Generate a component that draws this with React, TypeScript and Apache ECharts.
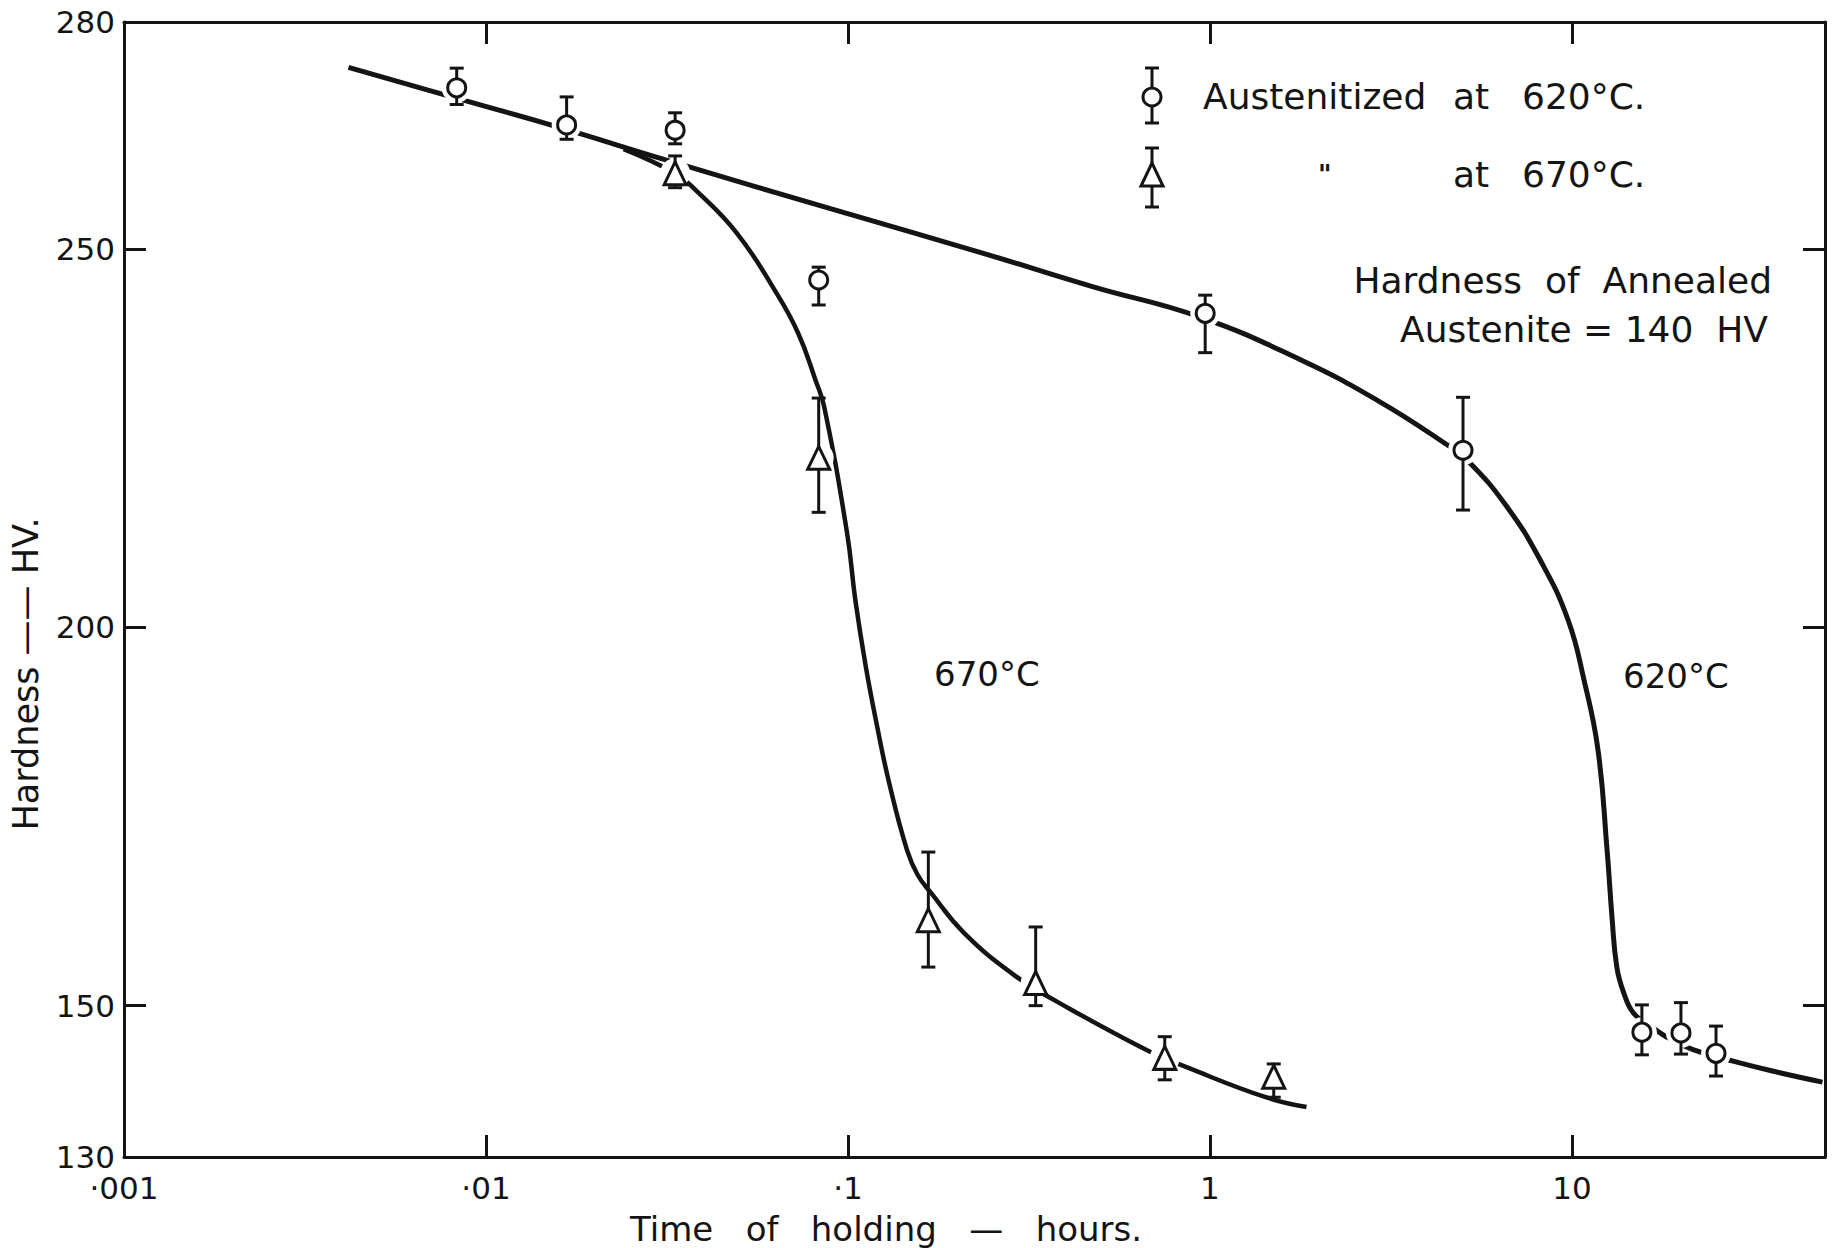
import React, { useEffect, useRef } from 'react';
import * as echarts from 'echarts';

// ---- axis ticks ----
const xTickValues = [0.001, 0.01, 0.1, 1, 10];
const xTickLabels = ['·001', '·01', '·1', '1', '10'];
const yTickLabels = [130, 150, 200, 250, 280];
const yTickMarks = [150, 200, 250];

// ---- Austenitized at 620 °C (circles) ----
const circ620T = [0.0083, 0.0167, 0.0333, 0.083, 0.97, 5, 15.6, 20, 25];
const circ620V = [271.3, 266.4, 265.7, 245.9, 241.5, 223.4, 146.5, 146.4, 143.7];
const circ620Lo = [269.1, 264.5, 263.9, 242.6, 236.3, 215.5, 143.5, 143.6, 140.7];
const circ620Hi = [273.9, 270.1, 268.0, 247.6, 243.9, 230.4, 150.1, 150.4, 147.3];

// ---- Austenitized at 670 °C (triangles) ----
const tri670T = [0.0333, 0.083, 0.1667, 0.33, 0.75, 1.5];
const tri670V = [260.0, 222.4, 161.3, 153.0, 143.1, 140.6];
const tri670Lo = [258.1, 215.2, 155.1, 150.0, 140.2, 137.9];
const tri670Hi = [262.3, 230.3, 170.3, 160.4, 145.9, 142.3];

// ---- fitted curves ----
const curve620T = [0.00417, 0.00833, 0.0161, 0.0312, 0.0976, 0.234, 0.476, 0.939, 1.79, 2.9, 4.43, 5.21, 6.62, 8.17, 9.75, 10.8, 11.8, 12.5, 12.9, 13.3, 13.9, 14.8, 16.6, 18.2, 21.6, 28.2, 37.0, 49.2];
const curve620V = [274.0, 269.9, 266.0, 261.8, 254.8, 249.5, 245.0, 241.0, 235.3, 230.0, 224.4, 221.8, 215.9, 208.9, 201.0, 193.0, 183.8, 170.6, 161.7, 155.1, 151.7, 149.0, 147.2, 145.9, 144.2, 142.6, 141.2, 139.9];

const curve670T = [0.024, 0.0333, 0.0379, 0.0493, 0.0634, 0.0728, 0.0813, 0.086, 0.0994, 0.1048, 0.112, 0.1205, 0.130, 0.1455, 0.1557, 0.169, 0.2094, 0.2924, 0.379, 0.683, 0.858, 1.425, 1.848];
const curve670V = [263.2, 260.0, 257.8, 252.1, 244.2, 238.9, 232.7, 229.1, 212.5, 203.6, 194.8, 186.8, 179.4, 170.6, 167.3, 165.0, 159.6, 153.8, 150.5, 143.9, 141.9, 137.9, 136.6];

const INK = '#141414';
const FONT = 'DejaVu Sans';

function zip(a: number[], b: number[]) {
  return a.map((v, i) => [v, b[i]]);
}

function errorBarSeries(t: number[], lo: number[], hi: number[]) {
  return {
    type: 'custom',
    silent: true,
    z: 3,
    data: t.map((v, i) => [v, lo[i], hi[i]]),
    encode: { x: 0, y: [1, 2] },
    renderItem: (_params: any, api: any) => {
      const x = api.value(0);
      const p1 = api.coord([x, api.value(1)]);
      const p2 = api.coord([x, api.value(2)]);
      const hw = 7;
      const style = { stroke: INK, lineWidth: 3 };
      return {
        type: 'group',
        children: [
          { type: 'line', shape: { x1: p1[0], y1: p1[1], x2: p2[0], y2: p2[1] }, style },
          { type: 'line', shape: { x1: p1[0] - hw, y1: p1[1], x2: p1[0] + hw, y2: p1[1] }, style },
          { type: 'line', shape: { x1: p2[0] - hw, y1: p2[1], x2: p2[0] + hw, y2: p2[1] }, style },
        ],
      };
    },
  };
}

function xLabel(v: number) {
  const i = xTickValues.findIndex((t) => Math.abs(Math.log10(t) - Math.log10(v)) < 1e-6);
  return i >= 0 ? xTickLabels[i] : '';
}

export default function App() {
  const ref = useRef<HTMLDivElement>(null);

  useEffect(() => {
    if (!ref.current) return;
    const chart = echarts.init(ref.current, null, { renderer: 'svg' });

    const axisLine = { show: true, lineStyle: { color: INK, width: 3 } };
    const tickStyle = { color: INK, width: 3 };
    const labelStyle = { color: INK, fontFamily: FONT, fontSize: 31 };

    const textStyle = (extra: any) => ({ fill: INK, fontFamily: FONT, fontSize: 36, ...extra });

    const option: any = {
      animation: false,
      backgroundColor: '#ffffff',
      grid: { left: 124, right: 15, top: 22, bottom: 91, containLabel: false },
      xAxis: [
        {
          type: 'log',
          logBase: 10,
          min: 0.001,
          max: 50,
          position: 'bottom',
          axisLine,
          axisTick: { show: true, inside: true, length: 22, lineStyle: tickStyle },
          minorTick: { show: false },
          splitLine: { show: false },
          axisLabel: { ...labelStyle, margin: 15, formatter: xLabel, showMaxLabel: false },
        },
        {
          type: 'log',
          logBase: 10,
          min: 0.001,
          max: 50,
          position: 'top',
          axisLine,
          axisTick: { show: true, inside: true, length: 22, lineStyle: tickStyle },
          minorTick: { show: false },
          splitLine: { show: false },
          axisLabel: { show: false },
        },
      ],
      yAxis: [
        {
          type: 'value',
          min: 130,
          max: 280,
          interval: 10,
          position: 'left',
          axisLine,
          axisTick: { show: true, inside: true, length: 22, lineStyle: tickStyle, customValues: yTickMarks },
          splitLine: { show: false },
          axisLabel: { ...labelStyle, margin: 9, customValues: yTickLabels, formatter: (v: number) => String(v) },
        },
        {
          type: 'value',
          min: 130,
          max: 280,
          interval: 10,
          position: 'right',
          axisLine,
          axisTick: { show: true, inside: true, length: 22, lineStyle: tickStyle, customValues: yTickMarks },
          splitLine: { show: false },
          axisLabel: { show: false },
        },
      ],
      series: [
        {
          type: 'line',
          name: '620',
          data: zip(curve620T, curve620V),
          smooth: 0.45,
          symbol: 'none',
          z: 1,
          silent: true,
          lineStyle: { color: INK, width: 5 },
        },
        {
          type: 'line',
          name: '670',
          data: zip(curve670T, curve670V),
          smooth: 0.45,
          symbol: 'none',
          z: 1,
          silent: true,
          lineStyle: { color: INK, width: 4.5 },
        },
        // white halos that break the curves around the markers
        {
          type: 'scatter',
          data: zip(circ620T, circ620V),
          symbol: 'circle',
          symbolSize: 30,
          z: 2,
          silent: true,
          itemStyle: { color: '#ffffff', borderWidth: 0, opacity: 1 },
        },
        {
          type: 'scatter',
          data: zip(tri670T, tri670V),
          symbol: 'circle',
          symbolSize: 30,
          z: 2,
          silent: true,
          itemStyle: { color: '#ffffff', borderWidth: 0, opacity: 1 },
        },
        errorBarSeries(circ620T, circ620Lo, circ620Hi),
        errorBarSeries(tri670T, tri670Lo, tri670Hi),
        {
          type: 'scatter',
          name: 'Austenitized at 620°C',
          data: zip(circ620T, circ620V),
          symbol: 'circle',
          symbolSize: 18,
          z: 4,
          itemStyle: { color: '#ffffff', borderColor: INK, borderWidth: 3, opacity: 1 },
        },
        {
          type: 'scatter',
          name: 'Austenitized at 670°C',
          data: zip(tri670T, tri670V),
          symbol: 'triangle',
          symbolSize: [22, 23],
          z: 4,
          itemStyle: { color: '#ffffff', borderColor: INK, borderWidth: 3, opacity: 1 },
        },
      ],
      graphic: [
        // legend: circle with error bar
        { type: 'line', shape: { x1: 1152, y1: 68, x2: 1152, y2: 123 }, style: { stroke: INK, lineWidth: 3 } },
        { type: 'line', shape: { x1: 1145, y1: 68, x2: 1159, y2: 68 }, style: { stroke: INK, lineWidth: 3 } },
        { type: 'line', shape: { x1: 1145, y1: 123, x2: 1159, y2: 123 }, style: { stroke: INK, lineWidth: 3 } },
        { type: 'circle', shape: { cx: 1152, cy: 97, r: 9 }, style: { fill: '#fff', stroke: INK, lineWidth: 3 } },
        // legend: triangle with error bar
        { type: 'line', shape: { x1: 1152, y1: 148, x2: 1152, y2: 207 }, style: { stroke: INK, lineWidth: 3 } },
        { type: 'line', shape: { x1: 1145, y1: 148, x2: 1159, y2: 148 }, style: { stroke: INK, lineWidth: 3 } },
        { type: 'line', shape: { x1: 1145, y1: 207, x2: 1159, y2: 207 }, style: { stroke: INK, lineWidth: 3 } },
        { type: 'polygon', shape: { points: [[1152, 163], [1141, 186], [1163, 186]] }, style: { fill: '#fff', stroke: INK, lineWidth: 3 } },
        // legend texts
        { type: 'text', left: 1203, top: 78, style: textStyle({ text: 'Austenitized' }) },
        { type: 'text', left: 1453, top: 78, style: textStyle({ text: 'at' }) },
        { type: 'text', left: 1522, top: 78, style: textStyle({ text: '620°C.' }) },
        { type: 'text', left: 1318, top: 162, style: textStyle({ text: '"', fontSize: 26, fontWeight: 'bold' }) },
        { type: 'text', left: 1453, top: 156, style: textStyle({ text: 'at' }) },
        { type: 'text', left: 1522, top: 156, style: textStyle({ text: '670°C.' }) },
        // note
        { type: 'text', right: 68, top: 262, style: textStyle({ text: 'Hardness  of  Annealed' }) },
        { type: 'text', right: 72, top: 311, style: textStyle({ text: 'Austenite = 140  HV' }) },
        // curve labels
        { type: 'text', left: 934, top: 657, style: textStyle({ text: '670°C', fontSize: 34 }) },
        { type: 'text', left: 1623, top: 659, style: textStyle({ text: '620°C', fontSize: 34 }) },
        // axis titles
        {
          type: 'text',
          left: 630,
          top: 1212,
          style: textStyle({ text: 'Time   of   holding   —   hours.', fontSize: 34 }),
        },
        {
          type: 'text',
          x: 26,
          y: 674,
          rotation: Math.PI / 2,
          style: textStyle({ text: 'Hardness —— HV.', fontSize: 35, align: 'center', verticalAlign: 'middle' }),
        },
      ],
    };

    chart.setOption(option);
    return () => chart.dispose();
  }, []);

  return (
    <div
      ref={ref}
      style={{ position: 'absolute', left: 0, top: 0, width: 1840, height: 1248, background: '#fff' }}
    />
  );
}
